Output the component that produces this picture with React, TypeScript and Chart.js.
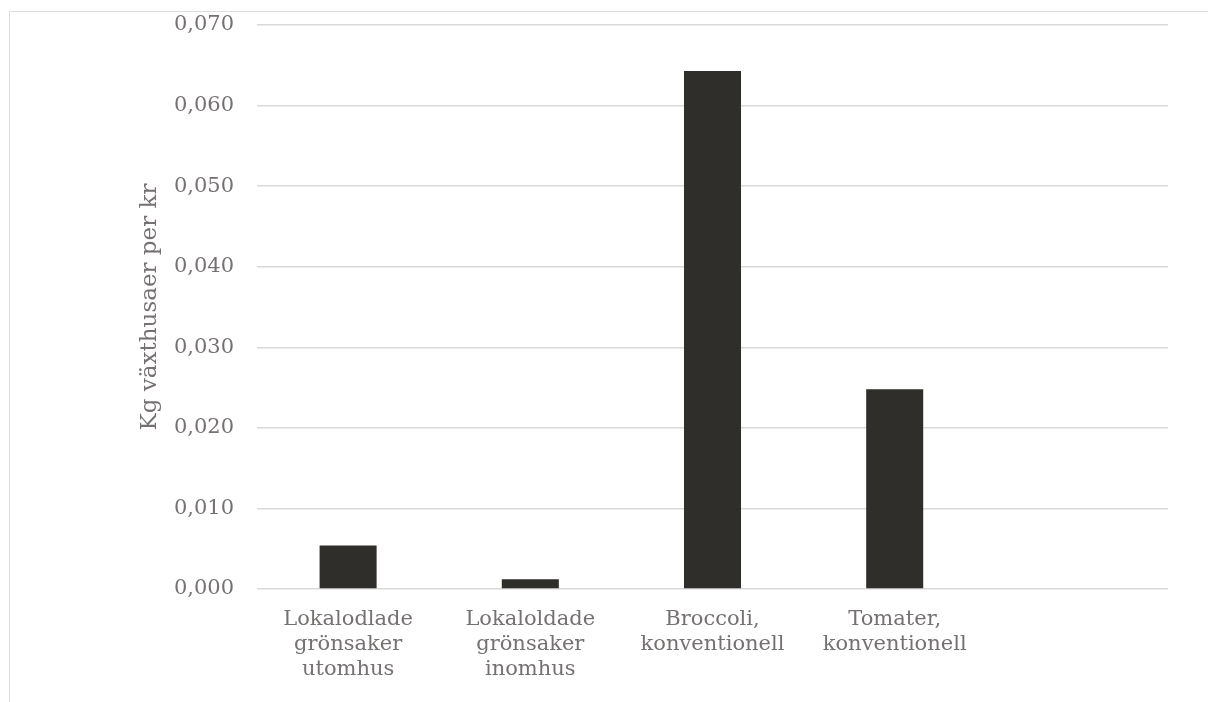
import React, { useEffect, useRef } from "react";
import { Chart, registerables } from "chart.js";

Chart.register(...registerables);

const categories: (string | string[])[] = [
  ["Lokalodlade", "grönsaker", "utomhus"],
  ["Lokaloldade", "grönsaker", "inomhus"],
  ["Broccoli,", "konventionell"],
  ["Tomater,", "konventionell"],
  "",
];
const values: (number | null)[] = [0.0054, 0.0012, 0.0643, 0.0248, null];
const yTicks: number[] = [0, 0.01, 0.02, 0.03, 0.04, 0.05, 0.06, 0.07];
const yTitle = "Kg växthusaer per kr";

const FONT = "'DejaVu Serif', serif";
const TEXT = "#767171";
const GRID = "#d9d9d9";
const BAR = "#302e2b";

export default function App() {
  const ref = useRef<HTMLCanvasElement | null>(null);

  useEffect(() => {
    document.documentElement.style.overflow = "hidden";
    document.body.style.margin = "0";
    if (!ref.current) return;
    const chart = new Chart(ref.current, {
      type: "bar",
      data: {
        labels: categories,
        datasets: [
          {
            data: values,
            backgroundColor: BAR,
            borderWidth: 0,
            barPercentage: 0.313,
            categoryPercentage: 1,
          },
        ],
      },
      options: {
        animation: false,
        responsive: false,
        devicePixelRatio: 1,
        layout: { padding: { left: 0, right: 40, top: 25, bottom: 0 } },
        plugins: { legend: { display: false }, tooltip: { enabled: false } },
        scales: {
          x: {
            grid: { display: false, drawTicks: false },
            border: { display: false },
            ticks: {
              color: TEXT,
              font: { family: FONT, size: 21, lineHeight: 1.2 },
              padding: 18,
              maxRotation: 0,
              autoSkip: false,
            },
            afterFit: (s: any) => {
              s.height = 113;
            },
          },
          y: {
            min: 0,
            max: 0.07,
            afterBuildTicks: (s: any) => {
              s.ticks = yTicks.map((v) => ({ value: v }));
            },
            grid: { color: GRID, lineWidth: 1.5, drawTicks: false },
            border: { display: false },
            ticks: {
              color: TEXT,
              font: { family: FONT, size: 21 },
              padding: 23,
              callback: (v: any) => Number(v).toFixed(3).replace(".", ","),
            },
            title: {
              display: true,
              text: yTitle,
              color: TEXT,
              font: { family: FONT, size: 23, lineHeight: 1.2 },
              padding: { top: 136, bottom: 0 },
            },
            afterFit: (s: any) => {
              s.width = 257;
              s.paddingTop = 0;
              s.paddingBottom = 0;
            },
          },
        },
      },
    });
    return () => chart.destroy();
  }, []);

  return (
    <div
      style={{
        position: "fixed",
        left: 0,
        top: 0,
        width: 1208,
        height: 702,
        overflow: "hidden",
        background: "#fff",
      }}
    >
      <div
        style={{
          position: "absolute",
          left: 9,
          top: 11,
          width: 1400,
          height: 900,
          borderLeft: "1px solid #dedede",
          borderTop: "1px solid #dedede",
        }}
      />
      <canvas
        ref={ref}
        width={1208}
        height={702}
        style={{ position: "absolute", left: 0, top: 0, width: 1208, height: 702 }}
      />
    </div>
  );
}
